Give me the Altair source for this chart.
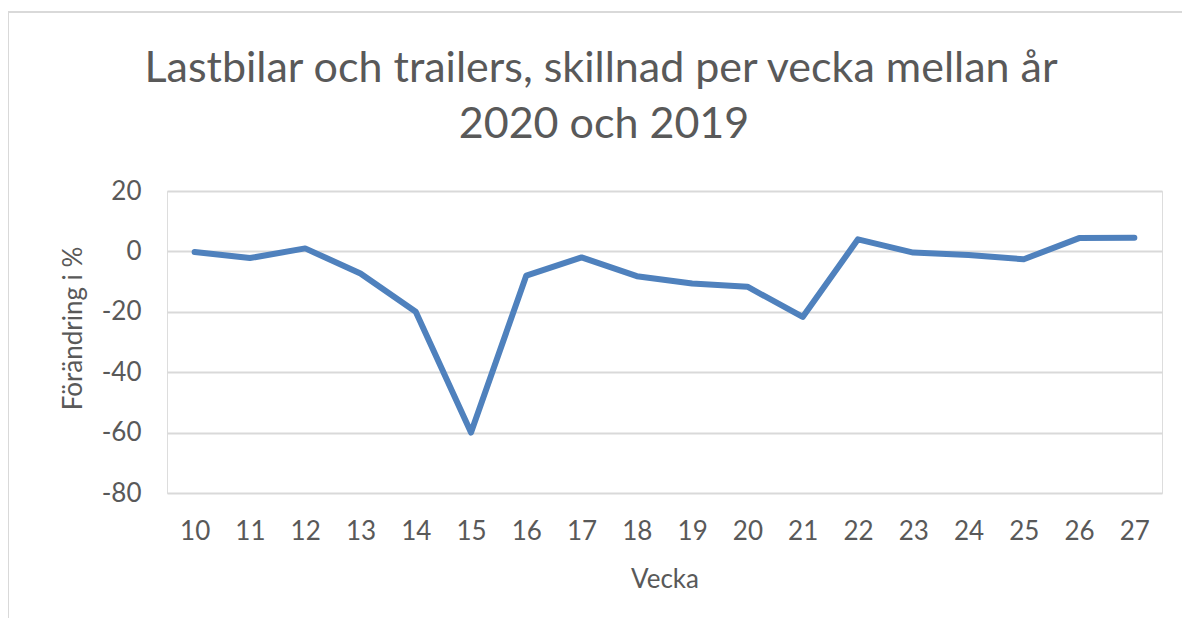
import altair as alt
import pandas as pd

weeks = ["10", "11", "12", "13", "14", "15", "16", "17", "18",
         "19", "20", "21", "22", "23", "24", "25", "26", "27"]
change = [-0.2, -2.2, 1.0, -7.3, -20.0, -60.0, -8.0, -2.0, -8.2,
          -10.6, -11.7, -21.7, 4.0, -0.4, -1.2, -2.6, 4.4, 4.5]

title_line1 = "Lastbilar och trailers, skillnad per vecka mellan år"
title_line2 = "2020 och 2019"
y_title = "Förändring i %"
x_title = "Vecka"

df = pd.DataFrame({"week": weeks, "change": change})
one = pd.DataFrame({"k": [0]})

FONT = "Lato"
TXT = "#595959"
W, H = 995, 302

line = alt.Chart(df).mark_line(color="#4F81BD", strokeWidth=6, strokeCap="round", strokeJoin="round").encode(
    x=alt.X("week:N", sort=weeks, scale=alt.Scale(paddingInner=0, paddingOuter=0.5, padding=0.5),
            axis=alt.Axis(title=x_title, labelAngle=0, labelFontSize=26, labelColor=TXT, labelFont=FONT,
                          labelPadding=25, domain=False, ticks=False, titleFontSize=26, titleFont=FONT,
                          titleColor=TXT, titleFontWeight="normal", titlePadding=22)),
    y=alt.Y("change:Q", scale=alt.Scale(domain=[-80, 20], nice=False),
            axis=alt.Axis(title=y_title, values=[-80, -60, -40, -20, 0, 20], labelFontSize=26,
                          labelExpr="datum.value < 0 ? '-' + abs(datum.value) : '' + datum.value",
                          labelColor=TXT, labelFont=FONT, labelPadding=26, domain=False, ticks=False,
                          gridColor="#d9d9d9", gridWidth=2, titleFontSize=26, titleFont=FONT,
                          titleColor=TXT, titleFontWeight="normal", titleX=-94, titleY=137,
                          titleAngle=-90, titleAlign="center", titleBaseline="middle")),
)

frame = alt.Chart(one).mark_rect(fill=None, stroke="#d9d9d9", strokeWidth=2).encode(
    x=alt.value(-159), x2=alt.value(1060), y=alt.value(-179), y2=alt.value(480)
)

t1 = alt.Chart(one).mark_text(text=title_line1, fontSize=43, font=FONT, color=TXT,
                              align="center", baseline="alphabetic").encode(
    x=alt.value(434), y=alt.value(-109))
t2 = alt.Chart(one).mark_text(text=title_line2, fontSize=43, font=FONT, color=TXT,
                              align="center", baseline="alphabetic").encode(
    x=alt.value(437), y=alt.value(-53))

chart = alt.layer(frame, t1, t2, line).properties(
    width=W, height=H,
    autosize=alt.AutoSizeParams(type="none"),
    padding={"left": 159, "top": 183, "right": 20, "bottom": 125},
).configure_view(stroke=None).configure(background="white")

chart.save("out.html", embed_options={"renderer": "svg", "actions": False})
